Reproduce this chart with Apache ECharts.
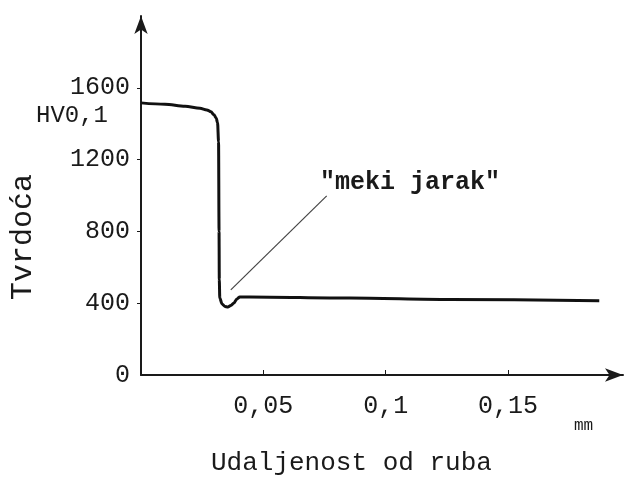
<!DOCTYPE html>
<html>
<head>
<meta charset="utf-8">
<title>Tvrdoća</title>
<script src="https://cdn.jsdelivr.net/npm/echarts@6/dist/echarts.min.js"></script>
<style>
  html, body { margin: 0; padding: 0; background: #fff; }
  #chart { width: 625px; height: 479px; }
</style>
</head>
<body>
<div id="chart"></div>
<script>
  // udaljenost od ruba (mm) i tvrdoca HV0,1 - ocitano sa slike
  var distance = [0, 0.0098, 0.0180, 0.0241, 0.0269, 0.0286, 0.0298, 0.0307, 0.0313, 0.0317, 0.0319, 0.0320, 0.0322, 0.0331, 0.0343, 0.0355, 0.0367, 0.0380, 0.0392, 0.0404, 0.0445, 0.0853, 0.1261, 0.1873];
  var hardness = [1516, 1508, 1497, 1486, 1477, 1466, 1450, 1432, 1405, 1300, 800, 530, 429, 396, 382, 379, 387, 401, 424, 435, 435, 429, 421, 414];

  var xTicks = [0.05, 0.1, 0.15];
  var yTicks = [0, 400, 800, 1200, 1600];

  // pokazna linija za "meki jarak"
  var leaderStart = [0.0367, 474];
  var leaderEnd = [0.0759, 998];

  var mono = '"Liberation Mono", "DejaVu Sans Mono", monospace';
  var ink = '#1a1a1a';

  var points = distance.map(function (d, i) { return [d, hardness[i]]; });

  var chart = echarts.init(document.getElementById('chart'));
  chart.setOption({
    animation: false,
    backgroundColor: '#fff',
    grid: { left: 141, right: 2, top: 16, bottom: 104 },
    xAxis: {
      type: 'value',
      min: 0,
      max: 0.197,
      splitLine: { show: false },
      axisLine: {
        lineStyle: { color: ink, width: 2 },
        symbol: ['none', 'arrow'],
        symbolSize: [10, 18]
      },
      axisTick: { show: true, inside: true, length: 5, customValues: xTicks, lineStyle: { color: ink } },
      axisLabel: {
        customValues: xTicks,
        margin: 19,
        fontFamily: mono,
        fontSize: 25,
        color: ink,
        formatter: function (v) { return String(v).replace('.', ','); }
      }
    },
    yAxis: {
      type: 'value',
      min: 0,
      max: 2000,
      splitLine: { show: false },
      axisLine: {
        lineStyle: { color: ink, width: 2 },
        symbol: ['none', 'arrow'],
        symbolSize: [10, 18]
      },
      axisTick: { show: true, length: 4, customValues: [400, 800, 1200, 1600], lineStyle: { color: ink } },
      axisLabel: {
        customValues: yTicks,
        margin: 11,
        fontFamily: mono,
        fontSize: 25,
        color: ink,
        formatter: function (v) { return String(v); }
      }
    },
    series: [{
      type: 'line',
      data: points,
      showSymbol: false,
      smooth: 0.3,
      smoothMonotone: 'x',
      lineStyle: { color: '#111', width: 3, join: 'round' },
      markLine: {
        silent: true,
        symbol: ['none', 'none'],
        label: { show: false },
        lineStyle: { color: '#444', width: 1.2, type: 'solid' },
        data: [[{ coord: leaderStart }, { coord: leaderEnd }]]
      }
    }],
    graphic: [
      {
        type: 'text', left: 36, top: 104,
        style: { text: 'HV0,1', font: '24px ' + mono, fill: ink }
      },
      {
        type: 'text', left: 320, top: 170,
        style: { text: '"meki jarak"', font: 'bold 25px ' + mono, fill: ink }
      },
      {
        type: 'text', left: 574, top: 418,
        style: { text: 'mm', font: '16px ' + mono, fill: ink }
      },
      {
        type: 'text', left: 211, top: 450,
        style: { text: 'Udaljenost od ruba', font: '26px ' + mono, fill: ink }
      },
      {
        type: 'text', x: 8, y: 300, rotation: Math.PI / 2,
        style: { text: 'Tvrdoća', font: '30px ' + mono, fill: ink }
      }
    ]
  });
</script>
</body>
</html>
